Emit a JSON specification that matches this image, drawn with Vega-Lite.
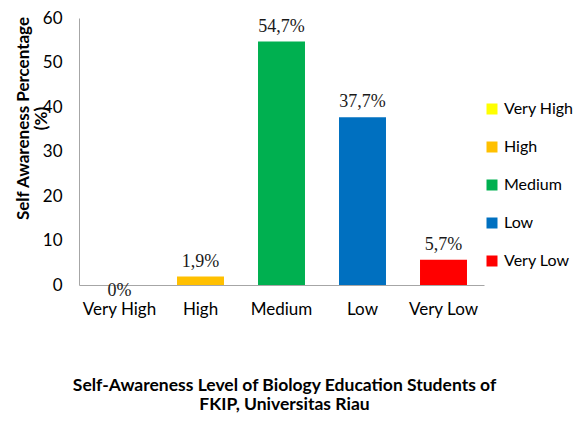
{
  "$schema": "https://vega.github.io/schema/vega-lite/v6.json",
  "width": 405,
  "height": 267,
  "autosize": "none",
  "padding": {"left": 79, "top": 18, "right": 91, "bottom": 137},
  "background": "white",
  "config": {"view": {"stroke": null}, "font": "Lato"},
  "title": {
    "text": ["Self-Awareness Level of Biology Education Students of", "FKIP, Universitas Riau"],
    "orient": "bottom",
    "anchor": "middle",
    "font": "Lato",
    "fontSize": 17.5,
    "fontWeight": "bold",
    "color": "#000000",
    "lineHeight": 19,
    "offset": 60,
    "dx": 3
  },
  "data": {
    "values": [
      {"level": "Very High", "value": 0, "label": "0%"},
      {"level": "High", "value": 1.9, "label": "1,9%"},
      {"level": "Medium", "value": 54.7, "label": "54,7%"},
      {"level": "Low", "value": 37.7, "label": "37,7%"},
      {"level": "Very Low", "value": 5.7, "label": "5,7%"}
    ]
  },
  "encoding": {
    "x": {
      "field": "level",
      "type": "nominal",
      "sort": ["Very High", "High", "Medium", "Low", "Very Low"],
      "scale": {"paddingInner": 0.42, "paddingOuter": 0.21},
      "axis": {
        "title": null,
        "labelAngle": 0,
        "ticks": false,
        "domainColor": "#A6A6A6",
        "labelFont": "Lato",
        "labelFontSize": 17,
        "labelColor": "#000000",
        "labelPadding": 16
      }
    },
    "y": {
      "field": "value",
      "type": "quantitative",
      "scale": {"domain": [0, 60]},
      "axis": {
        "title": ["Self Awareness Percentage", "(%)"],
        "values": [0, 10, 20, 30, 40, 50, 60],
        "grid": false,
        "ticks": false,
        "domainColor": "#A6A6A6",
        "labelFont": "Lato",
        "labelFontSize": 17,
        "labelColor": "#000000",
        "labelPadding": 17,
        "titleFont": "Lato",
        "titleFontSize": 17,
        "titleFontWeight": "bold",
        "titleColor": "#000000",
        "titleAngle": -90,
        "titleAlign": "center",
        "titleBaseline": "alphabetic",
        "titleLineHeight": 18,
        "titleX": -51,
        "titleY": 100
      }
    }
  },
  "layer": [
    {
      "mark": {"type": "bar"},
      "encoding": {
        "color": {
          "field": "level",
          "type": "nominal",
          "scale": {
            "domain": ["Very High", "High", "Medium", "Low", "Very Low"],
            "range": ["#FFFF00", "#FFC000", "#00B050", "#0070C0", "#FF0000"]
          },
          "legend": {
            "orient": "none",
            "legendX": 405,
            "legendY": 83,
            "title": null,
            "symbolType": "square",
            "symbolSize": 121,
            "symbolStrokeWidth": 0,
            "labelFont": "Lato",
            "labelFontSize": 16,
            "labelColor": "#000000",
            "labelOffset": 4,
            "rowPadding": 22,
            "padding": 0
          }
        }
      }
    },
    {
      "transform": [{"filter": "datum.value > 0"}],
      "mark": {"type": "text", "font": "Liberation Serif", "fontSize": 18, "color": "#1a1a1a", "baseline": "alphabetic", "dy": -10},
      "encoding": {"text": {"field": "label"}}
    },
    {
      "transform": [{"filter": "datum.value == 0"}],
      "mark": {"type": "text", "font": "Liberation Serif", "fontSize": 18, "color": "#1a1a1a", "baseline": "alphabetic", "dy": 11},
      "encoding": {"text": {"field": "label"}}
    }
  ]
}
